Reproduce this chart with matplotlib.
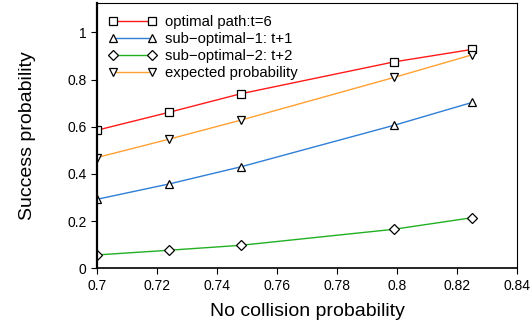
import matplotlib
matplotlib.use('Agg')
from matplotlib import pyplot as plt

plt.rcParams['font.family'] = ['Liberation Sans', 'DejaVu Sans']

# data
no_collision = [0.7, 0.724, 0.748, 0.799, 0.825]
optimal = [0.585, 0.661, 0.740, 0.875, 0.928]
sub_opt1 = [0.292, 0.357, 0.430, 0.606, 0.703]
sub_opt2 = [0.056, 0.076, 0.097, 0.165, 0.214]
expected = [0.469, 0.547, 0.628, 0.809, 0.905]

labels = ['optimal path:t=6', 'sub\u2212optimal\u22121: t+1',
          'sub\u2212optimal\u22122: t+2', 'expected probability']
series = [optimal, sub_opt1, sub_opt2, expected]
colors = ['#ff1a1a', '#2f7fd6', '#22b022', '#ffa033']
markers = ['s', '^', 'D', 'v']
msizes = [5.5, 5.5, 5, 5.5]

fig = plt.figure(figsize=(5.32, 3.2), dpi=100)
ax = fig.add_axes([0.182, 0.162, 0.79, 0.828])

for ys, lab, c, m, ms in zip(series, labels, colors, markers, msizes):
    ax.plot(no_collision, ys, color=c, lw=1.0, marker=m, markersize=ms,
            markerfacecolor='white', markeredgecolor='black',
            markeredgewidth=0.9, label=lab)

ax.set_xlim(0.7, 0.84)
ax.set_ylim(0, 1.124)
ax.set_xticks([0.7, 0.72, 0.74, 0.76, 0.78, 0.8, 0.82, 0.84])
ax.set_xticklabels(['0.7', '0.72', '0.74', '0.76', '0.78', '0.8', '0.82', '0.84'])
ax.set_yticks([0, 0.2, 0.4, 0.6, 0.8, 1])
ax.set_yticklabels(['0', '0.2', '0.4', '0.6', '0.8', '1'])
ax.tick_params(labelsize=10, direction='out', length=4.5, width=0.8, pad=3)
ax.spines['left'].set_linewidth(1.6)
ax.spines['bottom'].set_linewidth(1.2)
ax.set_xlabel('No collision probability', fontsize=14, labelpad=7.5)
ax.set_ylabel('Success probability', fontsize=14, labelpad=22)

ax.legend(loc='upper left', frameon=False, numpoints=2, fontsize=10.7,
          handlelength=3.2, borderaxespad=0.4, labelspacing=0.2,
          handletextpad=0.6)

fig.savefig('out.png', dpi=100)
